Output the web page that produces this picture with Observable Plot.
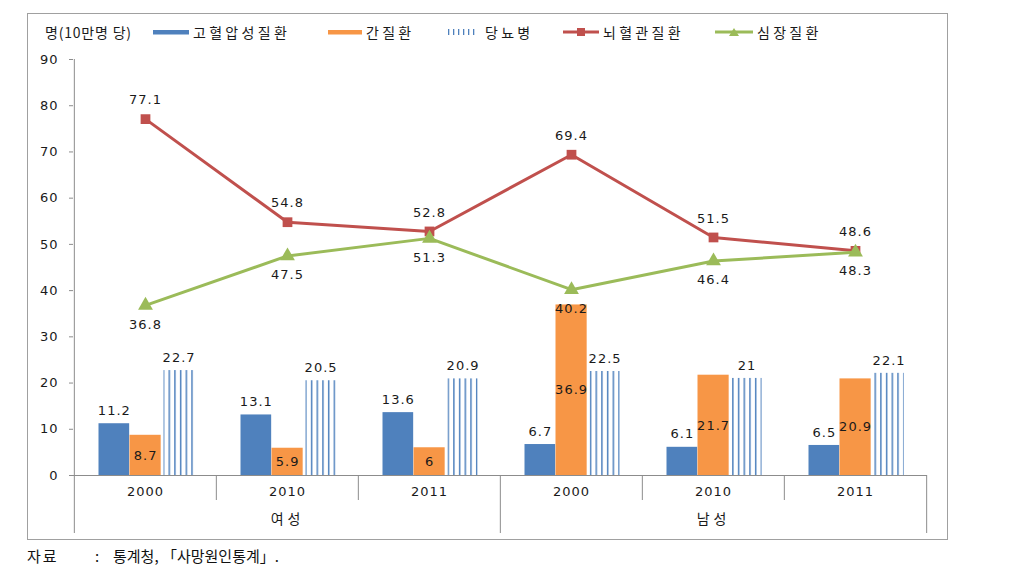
<!DOCTYPE html>
<html>
<head>
<meta charset="utf-8">
<script src="https://cdn.jsdelivr.net/npm/d3@7"></script>
<script src="https://cdn.jsdelivr.net/npm/@observablehq/plot@0.6"></script>
<style>
html, body { margin: 0; padding: 0; background: #fff; }
#frame { position: absolute; left: 27px; top: 13px; width: 921px; height: 527px; border: 1px solid #a0a0a0; box-sizing: border-box; }
#legend { position: relative; height: 36px; font-family: "Noto Sans CJK KR", sans-serif; font-size: 14px; color: #1a1a1a; }
.item { position: absolute; top: 0; height: 36px; display: flex; align-items: center; white-space: nowrap; }
.item svg { display: block; }
.name { letter-spacing: 3.3px; margin-left: 4px; }
#chart svg { display: block; }
#caption { position: absolute; left: 27px; top: 546px; font-family: "Noto Sans CJK KR", sans-serif; font-size: 15px; line-height: 20px; color: #111; white-space: pre; }
#caption span { display: inline-block; }
</style>
</head>
<body>
<div id="frame">
  <div id="legend"></div>
  <div id="chart"></div>
</div>
<div id="caption"><span style="width:68px;letter-spacing:2px">자료</span><span style="width:18px">:</span>통계청, 「사망원인통계」.</div>
<script>
// ---- data ----
const groups = ["여성", "여성", "여성", "남성", "남성", "남성"];
const years = ["2000", "2010", "2011", "2000", "2010", "2011"];
const seriesNames = ["고혈압성질환", "간질환", "당뇨병", "뇌혈관질환", "심장질환"];
const hypertension = [11.2, 13.1, 13.6, 6.7, 6.1, 6.5];
const liverDisease = [8.7, 5.9, 6, 36.9, 21.7, 20.9];
const diabetes = [22.7, 20.5, 20.9, 22.5, 21, 22.1];
const cerebrovascular = [77.1, 54.8, 52.8, 69.4, 51.5, 48.6];
const heartDisease = [36.8, 47.5, 51.3, 40.2, 46.4, 48.3];
const yTicks = [0, 10, 20, 30, 40, 50, 60, 70, 80, 90];
const yUnit = "명(10만명 당)";

// ---- styles / layout ----
const colors = ["#4f81bd", "#f79646", "#4f81bd", "#c0504d", "#9bbb59"];
const W = 919, H = 488, mL = 45, mR = 20, mT = 9, mB = 63;
const keys = groups.map((g, i) => g + "|" + years[i]);
const bw = (W - mL - mR) / keys.length;
const span = {bp: [24.5, 55.5], liver: [55.5, 87], diab: [89.5, 120]};
const center = s => (span[s][0] + span[s][1]) / 2 - bw / 2;
const axisGray = "#8c8c8c";
const textColor = "#1a1a1a";

const rows = keys.map((key, i) => ({
  key, group: groups[i], year: years[i],
  bp: hypertension[i], liver: liverDisease[i], diab: diabetes[i],
  cere: cerebrovascular[i], heart: heartDisease[i]
}));

const fmt = v => String(v);
const txt = {fontSize: 13, fill: textColor};

const chart = Plot.plot({
  width: W, height: H,
  marginLeft: mL, marginRight: mR, marginTop: mT, marginBottom: mB,
  style: {fontFamily: "DejaVu Sans", fontSize: "13px", letterSpacing: "1px", color: textColor, background: "transparent", overflow: "visible"},
  x: {domain: keys, padding: 0, label: null},
  y: {domain: [0, 90], label: null},
  marks: [
    Plot.barY(rows, {x: "key", y: "bp", fill: colors[0], insetLeft: span.bp[0], insetRight: bw - span.bp[1]}),
    Plot.barY(rows, {x: "key", y: "liver", fill: colors[1], insetLeft: span.liver[0], insetRight: bw - span.liver[1]}),
    Plot.barY(rows, {x: "key", y: "diab", fill: "url(#diabStripes)", insetLeft: span.diab[0], insetRight: bw - span.diab[1]}),
    Plot.ruleY([0], {stroke: axisGray}),
    Plot.ruleX([keys[0]], {dx: -bw / 2, stroke: axisGray}),
    Plot.axisY({ticks: yTicks, tickSize: 4, tickPadding: 11, stroke: axisGray, fill: textColor, fontSize: 13, label: null}),
    Plot.axisX({tickSize: 0, tickPadding: 11, tickFormat: k => k.split("|")[1], fill: textColor, fontSize: 13, label: null}),
    Plot.axisX({ticks: [keys[1], keys[4]], tickSize: 0, tickPadding: 39, tickFormat: k => k.split("|")[0], fill: textColor, fontSize: 14, fontFamily: "Noto Sans CJK KR", label: null}),
    Plot.axisX({ticks: [keys[1], keys[2], keys[4], keys[5]], tickSize: 25, dx: -bw / 2, tickFormat: () => "", stroke: axisGray, label: null}),
    Plot.axisX({ticks: [keys[0], keys[3]], tickSize: 58, dx: -bw / 2, tickFormat: () => "", stroke: axisGray, label: null}),
    Plot.axisX({ticks: [keys[5]], tickSize: 58, dx: bw / 2, tickFormat: () => "", stroke: axisGray, label: null}),
    Plot.line(rows, {x: "key", y: "cere", stroke: colors[3], strokeWidth: 3}),
    Plot.dot(rows, {x: "key", y: "cere", symbol: "square", r: 5.5, fill: colors[3]}),
    Plot.line(rows, {x: "key", y: "heart", stroke: colors[4], strokeWidth: 3}),
    Plot.dot(rows, {x: "key", y: "heart", symbol: "triangle", r: 5.5, fill: colors[4]}),
    Plot.text(rows, {x: "key", y: "bp", text: d => fmt(d.bp), dx: center("bp"), dy: -13, ...txt}),
    Plot.text(rows, {x: "key", y: d => d.liver / 2, text: d => fmt(d.liver), dx: center("liver"), ...txt}),
    Plot.text(rows, {x: "key", y: "diab", text: d => fmt(d.diab), dx: center("diab"), dy: -13, ...txt}),
    Plot.text(rows, {x: "key", y: "cere", text: d => fmt(d.cere), dy: -19, ...txt}),
    Plot.text(rows, {x: "key", y: "heart", text: d => fmt(d.heart), dy: 19, ...txt})
  ]
});

// stripe pattern for 당뇨병 bars (aligned so every bar gets the same stripes)
const pw = bw / 25;
const defs = d3.select(chart).insert("defs", ":first-child");
const pat = defs.append("pattern")
  .attr("id", "diabStripes")
  .attr("patternUnits", "userSpaceOnUse")
  .attr("x", mL + span.diab[0] + 0.3).attr("y", 0)
  .attr("width", pw).attr("height", H);
pat.append("rect").attr("x", 0).attr("y", 0).attr("width", 1.5).attr("height", H).attr("fill", colors[2]);

d3.select(chart).selectAll("text")
  .filter(function () { return /^(여성|남성)$/.test(this.textContent); })
  .style("letter-spacing", "4px");

document.getElementById("chart").appendChild(chart);

// ---- legend ----
const legend = d3.select("#legend");
legend.append("div").attr("class", "item").style("left", "17px").style("letter-spacing", "0.8px").text(yUnit);
const itemLeft = [125, 300, 419, 535, 687];
const swW = [36, 34, 30, 36, 38];
seriesNames.forEach((name, i) => {
  const it = legend.append("div").attr("class", "item").style("left", itemLeft[i] + "px");
  const sw = it.append("svg").attr("width", swW[i]).attr("height", 12);
  if (i < 2) {
    sw.append("rect").attr("x", 0).attr("y", 4).attr("width", swW[i]).attr("height", 4.5).attr("fill", colors[i]);
  } else if (i === 2) {
    for (let k = 0; k < 6; k++) sw.append("rect").attr("x", 1 + k * 5).attr("y", 3).attr("width", 1.3).attr("height", 6).attr("fill", colors[i]);
  } else {
    sw.append("line").attr("x1", 0).attr("x2", swW[i]).attr("y1", 6).attr("y2", 6).attr("stroke", colors[i]).attr("stroke-width", 3);
    if (i === 3) sw.append("rect").attr("x", swW[i] / 2 - 4).attr("y", 2).attr("width", 8).attr("height", 8).attr("fill", colors[i]);
    else sw.append("path").attr("d", `M${swW[i] / 2 - 5},10L${swW[i] / 2 + 5},10L${swW[i] / 2},2Z`).attr("fill", colors[i]);
  }
  it.append("span").attr("class", "name").style("margin-left", i === 2 ? "8px" : "4px").text(name);
});
</script>
</body>
</html>
